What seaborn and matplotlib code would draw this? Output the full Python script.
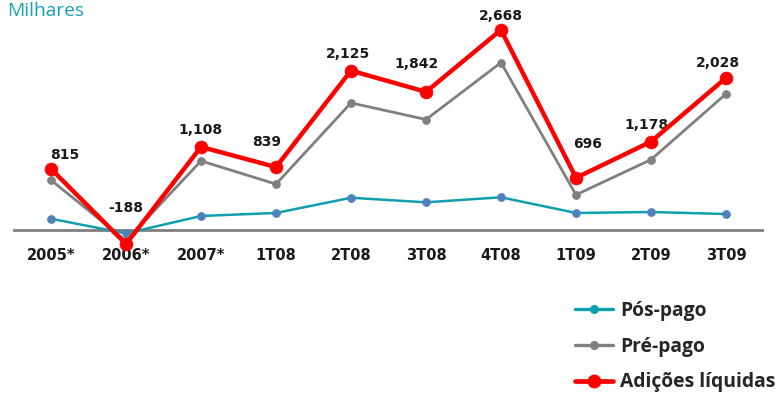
import matplotlib
matplotlib.use("Agg")
import matplotlib.pyplot as plt
from matplotlib.lines import Line2D
import seaborn as sns
import pandas as pd

# Net additions (thousands) per period
periods = ["2005*", "2006*", "2007*", "1T08", "2T08", "3T08", "4T08", "1T09", "2T09", "3T09"]
pos_pago = [150, -45, 187, 227, 430, 369, 436, 227, 240, 213]
pre_pago = [665, -143, 921, 612, 1695, 1473, 2232, 469, 938, 1815]
adicoes = [815, -188, 1108, 839, 2125, 1842, 2668, 696, 1178, 2028]

# label offsets (points) for the net-addition values
label_dx = [10, 0, 0, -6.5, -2, -7, 0, 8, -3, -6]
label_dy = [10, 26, 12, 18, 12, 20, 10, 24, 12, 11]

sns.set_theme(style="white")
plt.rcParams["font.family"] = ["Open Sans", "DejaVu Sans"]

TEAL = "#119eae"
GRAY = "#808080"
RED = "#ff0000"
DOT = "#4f81bd"

df = pd.DataFrame({"x": range(len(periods)), "pos": pos_pago, "pre": pre_pago, "tot": adicoes})

fig = plt.figure(figsize=(7.84, 3.97), dpi=100)
ax = fig.add_axes([13.5 / 784, (397 - 247) / 397, 750 / 784, 237 / 397])

sns.lineplot(data=df, x="x", y="pos", ax=ax, color=TEAL, linewidth=1.8,
             marker="o", markersize=5.5, markerfacecolor=DOT, markeredgecolor=DOT, zorder=3)
sns.lineplot(data=df, x="x", y="pre", ax=ax, color=GRAY, linewidth=2.0,
             marker="o", markersize=5.5, markerfacecolor=GRAY, markeredgecolor=GRAY, zorder=4)
sns.lineplot(data=df, x="x", y="tot", ax=ax, color=RED, linewidth=3.2,
             marker="o", markersize=9, markerfacecolor=RED, markeredgecolor=RED, zorder=5)
for ln in ax.lines:
    ln.set_clip_on(False)

ax.axhline(0, color="#808080", linewidth=2, zorder=2)

for i, v in enumerate(adicoes):
    ax.annotate(f"{v:,}", (i, v), xytext=(label_dx[i], label_dy[i]), textcoords="offset points",
                ha="center", va="center", fontsize=10, fontweight="bold", color="#1a1a1a",
                family=["DejaVu Sans"])

ax.set_xlim(-0.5, len(periods) - 0.5)
ax.set_ylim(-226.7, 2933.3)
ax.set_xticks(range(len(periods)))
ax.set_xticklabels(periods)
for t in ax.get_xticklabels():
    t.set_fontfamily(["DejaVu Sans"])
    t.set_fontsize(10.5)
    t.set_fontweight("bold")
    t.set_color("#1a1a1a")
ax.tick_params(axis="x", length=0, pad=1)
ax.set_yticks([])
ax.set_xlabel("")
ax.set_ylabel("")
for s in ax.spines.values():
    s.set_visible(False)

fig.text(7 / 784, 1 - 11 / 397, "Milhares", color="#18a0b4", fontsize=13.8, va="center", ha="left")

handles = [
    Line2D([], [], color=TEAL, linewidth=2.4, marker="o", markersize=5.5, markerfacecolor=TEAL, markeredgecolor=TEAL),
    Line2D([], [], color=GRAY, linewidth=2.4, marker="o", markersize=5.5, markerfacecolor=GRAY, markeredgecolor=GRAY),
    Line2D([], [], color=RED, linewidth=3.4, marker="o", markersize=9, markerfacecolor=RED, markeredgecolor=RED),
]
labels = ["Pós-pago", "Pré-pago", "Adições líquidas"]
leg = fig.legend(handles, labels, loc="upper left", bbox_to_anchor=(567 / 784, 1 - 293 / 397),
                 frameon=False, handlelength=2.0, handletextpad=0.35, labelspacing=0.82,
                 borderpad=0.4, borderaxespad=0,
                 prop={"family": "Open Sans", "weight": "bold", "size": 13.9})

fig.savefig("out.png", dpi=100)
